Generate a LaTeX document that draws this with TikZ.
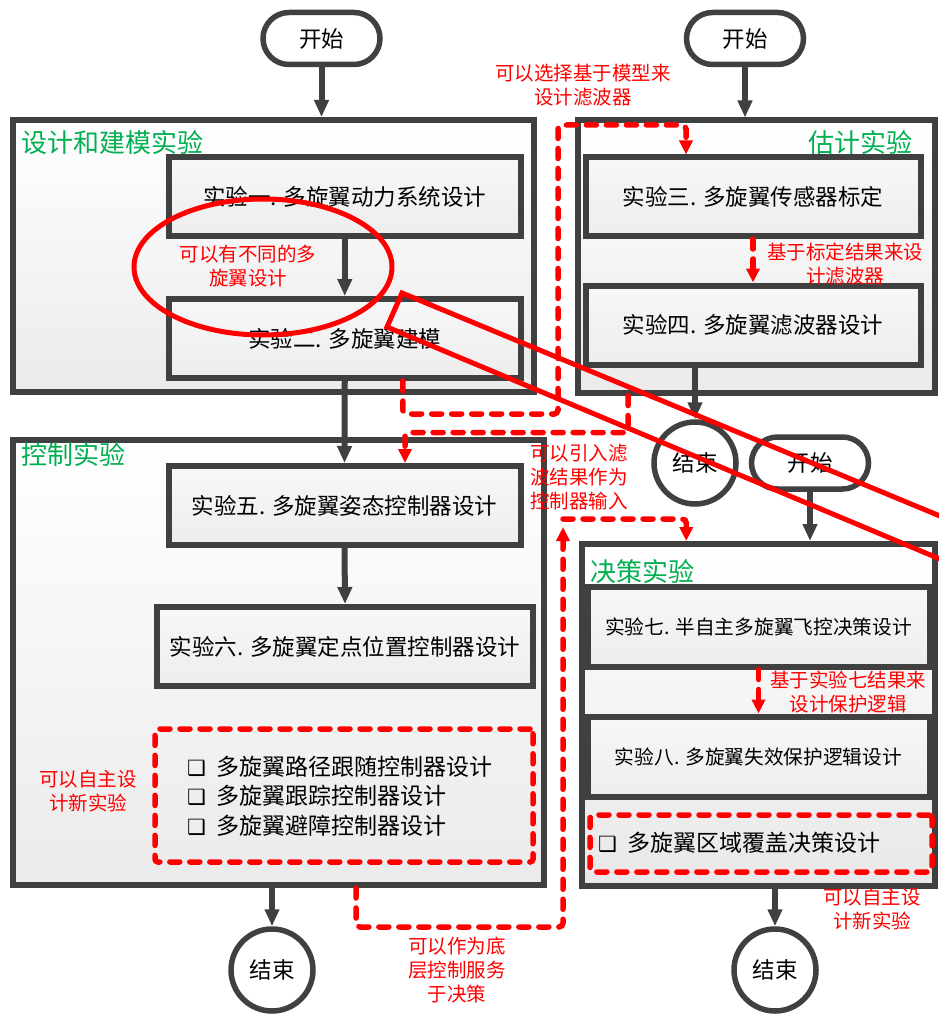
\documentclass[tikz,border=0pt]{standalone}
\usepackage{fontspec}
\setmainfont{Noto Sans CJK SC}
\newfontfamily\dejavu{DejaVu Sans}
\usetikzlibrary{arrows.meta,shapes.geometric}
\definecolor{dk}{HTML}{404040}
\definecolor{gr}{HTML}{00B050}
\definecolor{rd}{HTML}{FF0000}
\begin{document}
\begin{tikzpicture}[x=1pt,y=-1pt,
  bigbox/.style={draw=dk,line width=6pt,top color=white,bottom color=black!8,inner sep=0pt},
  expbox/.style={draw=dk,line width=6pt,top color=white!97!black,bottom color=black!7,inner sep=0pt,font=\fontsize{22.5}{26}\selectfont},
  smallexp/.style={expbox,font=\fontsize{19.7}{24}\selectfont},
  pill/.style={draw=dk,line width=5.5pt,fill=white,rounded corners=26pt,minimum width=117pt,minimum height=52pt,inner sep=0pt,font=\fontsize{22.5}{26}\selectfont},
  endc/.style={circle,draw=dk,line width=5.5pt,fill=white,minimum size=82pt,inner sep=0pt,font=\fontsize{22.5}{26}\selectfont},
  title/.style={text=gr,font=\fontsize{26}{30}\selectfont,inner sep=0pt},
  note/.style={text=rd,align=center,font=\fontsize{19.5}{24}\selectfont,inner sep=0pt},
  arr/.style={draw=dk,line width=6pt,-{Triangle[length=17pt,width=14pt]}},
  rdash/.style={draw=rd,line width=5.5pt,dash pattern=on 10pt off 10pt,line cap=round,rounded corners=4pt,-{Triangle[length=14pt,width=13pt]}},
  rdbox/.style={draw=rd,line width=5.5pt,dash pattern=on 10pt off 10pt,line cap=round,rounded corners=3pt,inner sep=0pt},
  item/.style={anchor=west,inner sep=0pt,font=\fontsize{23}{26}\selectfont}
]
\useasboundingbox (0,0) rectangle (938,1016);

% big boxes
\node[bigbox,minimum width=521pt,minimum height=272pt] (box1) at (273.5,256) {};
\node[bigbox,minimum width=357pt,minimum height=272pt] (box2) at (756,256.5) {};
\node[bigbox,minimum width=531pt,minimum height=445pt] (box3) at (278.5,662.5) {};
\node[bigbox,minimum width=352.5pt,minimum height=342pt,top color=white,bottom color=black!9] (box4) at (758.25,715) {};

% titles
\node[title,anchor=west] (t1) at (21,143) {设计和建模实验};
\node[title,anchor=east] (t2) at (913,143) {估计实验};
\node[title,anchor=west] (t3) at (21,455) {控制实验};
\node[title,anchor=west] (t4) at (590,572) {决策实验};

% experiment boxes
\node[expbox,minimum width=351.5pt,minimum height=79pt] (exp1) at (344.75,196.5) {实验一. 多旋翼动力系统设计};
\node[expbox,minimum width=351.5pt,minimum height=79pt] (exp2) at (344.75,338.5) {实验二. 多旋翼建模};
\node[expbox,minimum width=335pt,minimum height=78.5pt] (exp3) at (753,196.75) {实验三. 多旋翼传感器标定};
\node[expbox,minimum width=335pt,minimum height=79pt] (exp4) at (753,325) {实验四. 多旋翼滤波器设计};
\node[expbox,minimum width=352pt,minimum height=79pt] (exp5) at (344.5,505.5) {实验五. 多旋翼姿态控制器设计};
\node[expbox,minimum width=376pt,minimum height=79pt] (exp6) at (345,646.5) {实验六. 多旋翼定点位置控制器设计};
\node[smallexp,minimum width=342pt,minimum height=80pt] (exp7) at (758.5,626.5) {实验七. 半自主多旋翼飞控决策设计};
\node[smallexp,minimum width=342pt,minimum height=80pt] (exp8) at (758.5,756.5) {实验八. 多旋翼失效保护逻辑设计};

% dashed boxes with items
\node[rdbox,minimum width=378pt,minimum height=133pt] (dbox1) at (344,795.5) {};
\node[item] (i1) at (187,767) {{\dejavu\fontsize{21}{21}\selectfont ❑}\hspace{10pt}多旋翼路径跟随控制器设计};
\node[item] (i2) at (187,796) {{\dejavu\fontsize{21}{21}\selectfont ❑}\hspace{10pt}多旋翼跟踪控制器设计};
\node[item] (i3) at (187,826) {{\dejavu\fontsize{21}{21}\selectfont ❑}\hspace{10pt}多旋翼避障控制器设计};
\node[rdbox,minimum width=342pt,minimum height=57pt] (dbox2) at (761,843.5) {};
\node[item] (i4) at (598,843) {{\dejavu\fontsize{21}{21}\selectfont ❑}\hspace{10pt}多旋翼区域覆盖决策设计};

% start / end
\node[pill] (start1) at (321.5,38.5) {开始};
\node[pill] (start2) at (745,38.5) {开始};
\node[pill] (start3) at (810,463) {开始};
\node[endc] (end1) at (695,463) {结束};
\node[endc] (end2) at (272,970) {结束};
\node[endc] (end3) at (775,970) {结束};

% dark arrows
\draw[arr] (start1.south) -- (start1.south |- box1.north);
\draw[arr] (start2.south) -- (start2.south |- box2.north);
\draw[arr] (start3.south) -- (start3.south |- box4.north);
\draw[arr] (exp1.south) -- (exp2.north);
\draw[arr] (exp2.south) -- (exp5.north);
\draw[arr] (exp5.south) -- (exp6.north);
\draw[arr] (exp4.south -| end1.north) -- (end1.north);
\draw[arr] (box3.south -| end2.north) -- (end2.north);
\draw[arr] (box4.south -| end3.north) -- (end3.north);

% red dashed arrows
\draw[rdash] (exp3.south) -- (exp4.north);
\draw[rdash] (exp7.south) -- (exp8.north);
\draw[rdash] ([xshift=58pt]exp2.south) -- ++(0,33) -| (558,125) -| ([xshift=-67pt]exp3.north);
\draw[rdash] ([xshift=-128pt]box2.south) -- ++(0,37) -| ([xshift=60.5pt]exp5.north);
\coordinate (r3c) at (563,519);
\draw[rdash] ([xshift=77.5pt]box3.south) -- ++(0,39) -| (563,527);
\draw[rdash] (r3c) -| ([xshift=-72pt]box4.north);

% red annotations
\node[ellipse,draw=rd,line width=5pt,minimum width=258pt,minimum height=136pt,inner sep=0pt] (ell) at (263,267) {};
\draw[rd,line width=5pt,line join=miter] (940,516) -- (402,293) -- (387,327) -- (940,559);

% notes
\node[note] (n1) at (583,85.5) {可以选择基于模型来\\设计滤波器};
\node[note] (n2) at (845,264.5) {基于标定结果来设\\计滤波器};
\node[note] (n3) at (248,266) {可以有不同的多\\旋翼设计};
\node[note] (n4) at (579,477) {可以引入滤\\波结果作为\\控制器输入};
\node[note] (n5) at (88,791) {可以自主设\\计新实验};
\node[note] (n6) at (457,970) {可以作为底\\层控制服务\\于决策};
\node[note] (n7) at (848,692.5) {基于实验七结果来\\设计保护逻辑};
\node[note] (n8) at (872,909) {可以自主设\\计新实验};
\end{tikzpicture}
\end{document}
